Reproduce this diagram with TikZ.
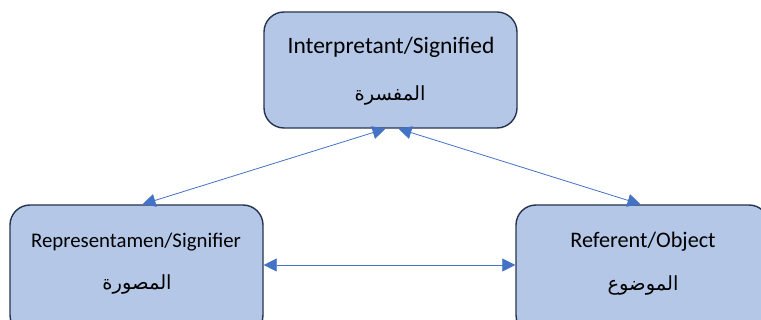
\documentclass[tikz,border=0pt]{standalone}
\usepackage{fontspec}
\setmainfont{Carlito}
\newfontfamily\arabicfont[Script=Arabic]{DejaVu Sans}
\TeXXeTstate=1
\usetikzlibrary{arrows.meta}
\definecolor{boxfill}{HTML}{B4C7E7}
\definecolor{boxdraw}{HTML}{263450}
\definecolor{arrowc}{HTML}{4472C4}
\tikzset{
  conceptbox/.style={draw=boxdraw, fill=boxfill, line width=1.4pt, rounded corners=20pt,
    minimum width=253pt, inner sep=0pt},
  entxt/.style={text=black, inner sep=0pt},
  artxt/.style={font=\arabicfont\fontsize{19.5}{22}\selectfont, text=black, inner sep=0pt},
  link/.style={draw=arrowc, line width=0.8pt, {Triangle[length=13pt,width=13pt]}-{Triangle[length=13pt,width=13pt]}, arrowc}
}
\begin{document}
\begin{tikzpicture}[x=1pt,y=-1pt]
\useasboundingbox (0,0) rectangle (761,320);
\clip (0,0) rectangle (761,320);
\node[conceptbox, minimum height=116pt] (top) at (390.5,70) {};
\node[conceptbox, minimum height=130pt] (left) at (136.5,270) {};
\node[conceptbox, minimum height=130pt] (right) at (642.5,270) {};
\node[entxt, font=\fontsize{23.5}{27}\selectfont] (topen) at (391,47) {Interpretant/Signified};
\node[artxt] (topar) at (390,95) {\beginR المفسرة\endR};
\node[entxt, font=\fontsize{20.8}{24}\selectfont] (lefte) at (136,242) {Representamen/Signifier};
\node[artxt] (leftar) at (137,284) {\beginR المصورة\endR};
\node[entxt, font=\fontsize{22.2}{26}\selectfont] (righte) at (643,242) {Referent/Object};
\node[artxt] (rightar) at (643,285) {\beginR الموضوع\endR};
\coordinate (t1) at ([xshift=-5pt]top.south);
\coordinate (t2) at ([xshift=8pt]top.south);
\coordinate (l1) at ([xshift=6pt]left.north);
\coordinate (r1) at ([xshift=-2pt]right.north);
\coordinate (h1) at ([yshift=5pt]left.east);
\coordinate (h2) at ([yshift=5pt]right.west);
\draw[link] (t1) -- (l1);
\draw[link] (t2) -- (r1);
\draw[link] (h1) -- (h2);
\end{tikzpicture}
\end{document}
